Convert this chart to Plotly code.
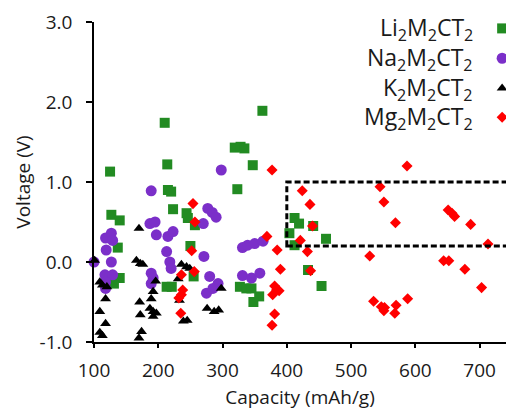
import plotly.graph_objects as go

# ---- data (capacity mAh/g, voltage V) ----
li_x = [125, 127, 140, 137, 140, 131, 210, 214, 215, 220, 223, 213, 221, 244, 246, 257, 250, 255,
        319, 328, 334, 347, 323, 327, 337, 345, 357, 348, 362, 412, 419, 404, 412, 441, 461, 433, 454]
li_y = [1.13, 0.59, 0.52, 0.18, -0.20, -0.27, 1.74, 1.22, 0.90, 0.88, 0.66, -0.31, -0.31, 0.61, 0.55, 0.46, 0.20, -0.18,
        1.43, 1.44, 1.42, 1.21, 0.91, -0.31, -0.33, -0.33, -0.43, -0.50, 1.89, 0.55, 0.48, 0.36, 0.21, 0.45, 0.29, -0.10, -0.30]

na_x = [100, 118, 127, 129, 119, 127, 117, 129, 118, 118, 189, 187, 195, 197, 215, 223, 213, 218, 220, 189, 192, 189,
        298, 277, 284, 290, 270, 271, 280, 293, 275, 285, 331, 339, 350, 363, 331, 345, 358]
na_y = [0.0, 0.30, 0.36, 0.27, 0.15, 0.0, -0.16, -0.16, -0.25, -0.33, 0.89, 0.48, 0.50, 0.34, 0.32, 0.38, 0.13, 0.0, -0.08,
        -0.14, -0.20, -0.27, 1.15, 0.67, 0.62, 0.56, 0.48, 0.07, -0.18, -0.27, -0.39, -0.33, 0.18, 0.21, 0.23, 0.26,
        -0.17, -0.20, -0.14]

k_x = [101, 109, 113, 120, 118, 109, 118, 109, 113, 170, 166, 172, 176, 171, 189, 192, 196, 172, 187, 192, 197, 192,
       174, 170, 236, 244, 249, 231, 233, 239, 245, 276, 287, 294, 298]
k_y = [0.02, -0.25, -0.29, -0.31, -0.46, -0.62, -0.77, -0.88, -0.92, 0.42, 0.02, -0.02, -0.03, -0.50, -0.46, -0.37,
       -0.24, -0.66, -0.58, -0.62, -0.64, -0.68, -0.87, -0.95, -0.03, -0.06, -0.08, -0.21, -0.48, -0.74, -0.73,
       -0.58, -0.62, -0.60, -0.33]

mg_x = [254, 257, 252, 256, 236, 238, 236, 232, 235, 377, 369, 385, 390, 381, 388, 378, 384, 381, 377,
        424, 436, 440, 421, 432, 437, 587, 545, 551, 569, 529, 535, 547, 551, 552, 570, 568, 588,
        651, 657, 661, 686, 713, 644, 652, 677, 703]
mg_y = [0.73, 0.50, 0.14, -0.12, -0.16, -0.35, -0.41, -0.45, -0.64, 1.15, 0.32, 0.15, -0.09, -0.30, -0.36, -0.41,
        -0.35, -0.65, -0.79, 0.89, 0.72, 0.45, 0.27, 0.13, -0.11, 1.20, 0.94, 0.75, 0.49, 0.075, -0.49, -0.56,
        -0.61, -0.57, -0.54, -0.64, -0.46, 0.65, 0.61, 0.57, 0.47, 0.225, 0.015, 0.015, -0.09, -0.32]

series_names = ["Li<sub>2</sub>M<sub>2</sub>CT<sub>2</sub>", "Na<sub>2</sub>M<sub>2</sub>CT<sub>2</sub>",
                "K<sub>2</sub>M<sub>2</sub>CT<sub>2</sub>", "Mg<sub>2</sub>M<sub>2</sub>CT<sub>2</sub>"]
x_ticks = [100, 200, 300, 400, 500, 600, 700]
y_ticks = [-1, 0, 1, 2, 3]
y_ticktext = ["-1.0", "0.0", "1.0", "2.0", "3.0"]
box_x = [400, 760]
box_y = [0.2, 1.0]

colors = ["#228b22", "#7b2fc9", "#000000", "#ff0000"]
symbols = ["square", "circle", "triangle-up", "diamond"]
sizes = [10, 11, 9.5, 8.5]
data = [(li_x, li_y), (na_x, na_y), (k_x, k_y), (mg_x, mg_y)]

FONT = "Open Sans"
fig = go.Figure()
for (xs, ys), c, s, sz, nm in zip(data, colors, symbols, sizes, series_names):
    fig.add_trace(go.Scatter(x=xs, y=ys, mode="markers", name=nm, showlegend=False,
                             marker=dict(color=c, symbol=s, size=sz, line=dict(width=0)),
                             cliponaxis=False))

# custom legend: text on the left, marker on the right (placed in data units)
leg_marker_x = 735
leg_text_x = 692
leg_y = [2.92, 2.547, 2.173, 1.81]
for nm, c, s, sz, yy in zip(series_names, colors, symbols, sizes, leg_y):
    fig.add_trace(go.Scatter(x=[leg_marker_x], y=[yy], mode="markers", showlegend=False,
                             marker=dict(color=c, symbol=s, size=sz, line=dict(width=0)), cliponaxis=False,
                             hoverinfo="skip"))
    fig.add_annotation(x=leg_text_x, y=yy, xref="x", yref="y", text=nm, showarrow=False,
                       xanchor="right", yanchor="middle", font=dict(family=FONT, size=23, color="#1a1a1a"))

fig.add_shape(type="rect", xref="x", yref="y", x0=box_x[0], x1=box_x[1], y0=box_y[0], y1=box_y[1],
              line=dict(color="black", width=3, dash="6px,3px"), layer="above")

fig.update_layout(
    width=506, height=410, margin=dict(l=94, r=0, t=22, b=68),
    paper_bgcolor="white", plot_bgcolor="white",
    font=dict(family=FONT, size=19, color="#1a1a1a"),
    xaxis=dict(range=[100, 741], tickvals=x_ticks, showgrid=False, zeroline=False, automargin=False,
               showline=True, linecolor="black", linewidth=1.5, ticks="outside", ticklen=4, tickwidth=1.5,
               tickcolor="black", ticklabelstandoff=6,
               title=dict(text="Capacity (mAh/g)", standoff=13, font=dict(size=19))),
    yaxis=dict(range=[-1, 3], tickvals=y_ticks, ticktext=y_ticktext, showgrid=False, zeroline=False,
               automargin=False,
               showline=True, linecolor="black", linewidth=1.5, ticks="outside", ticklen=6, tickwidth=1.5,
               tickcolor="black", ticklabelstandoff=10,
               title=dict(text="Voltage (V)", standoff=4, font=dict(size=19))),
)

# remove the default page margin so the 506x410 figure fills the window exactly
fig.write_html("out.html", config={"displayModeBar": False},
               post_script="document.body.style.margin='0';document.body.style.overflow='hidden';")
